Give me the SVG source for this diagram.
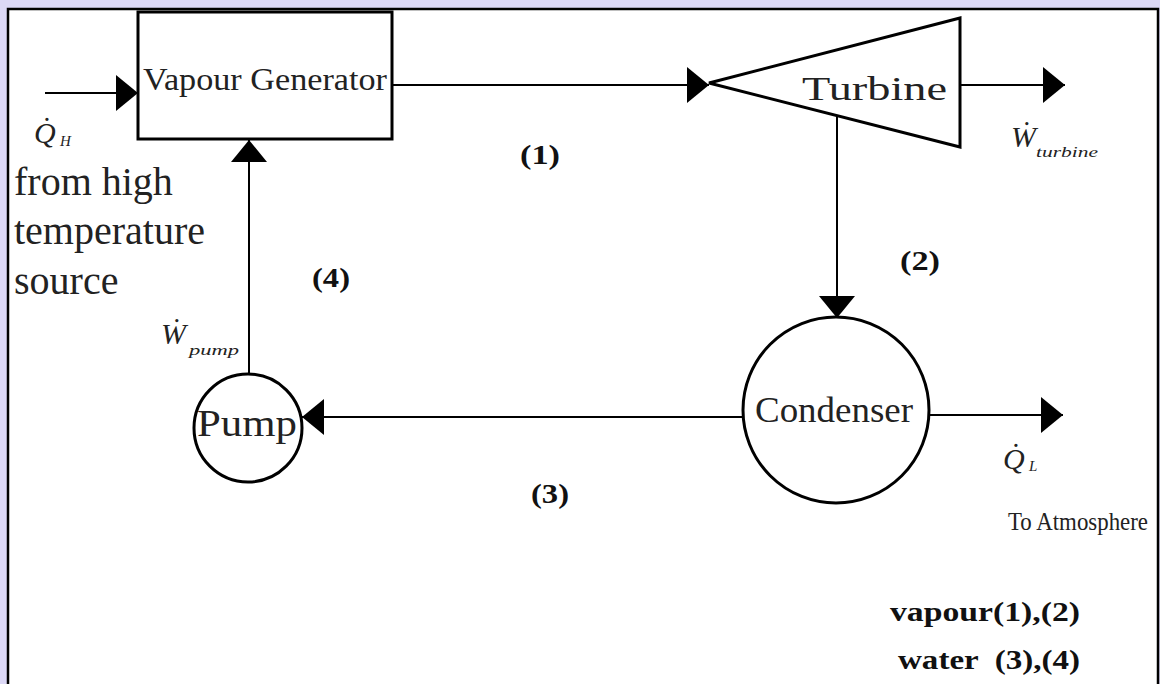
<svg xmlns="http://www.w3.org/2000/svg" width="1160" height="684" viewBox="0 0 1160 684">
<style>
.ln{stroke:#000;stroke-width:2;fill:none}
.sh{stroke:#000;stroke-width:3;fill:#fff}
.t{font-family:"Liberation Serif","Times New Roman",serif;fill:#222}
.b{font-family:"Liberation Serif","Times New Roman",serif;font-weight:bold;fill:#111}
.i{font-family:"Liberation Serif","Times New Roman",serif;font-style:italic;fill:#222}
</style>
<defs>
<marker id="ah" markerUnits="userSpaceOnUse" markerWidth="22" markerHeight="36" refX="22" refY="18" orient="auto">
<path d="M0,0 L22,18 L0,36 z" fill="#000"/>
</marker>
</defs>
<rect x="0" y="0" width="1160" height="684" fill="#dcd8f6"/>
<rect x="8" y="9" width="1150" height="690" fill="#fff" stroke="#000" stroke-width="2.5"/>

<g id="connectors">
<line class="ln" x1="45" y1="93" x2="138" y2="93" marker-end="url(#ah)"/>
<line class="ln" x1="392" y1="85" x2="709" y2="85" marker-end="url(#ah)"/>
<line class="ln" x1="960" y1="85" x2="1065" y2="85" marker-end="url(#ah)"/>
<line class="ln" x1="837" y1="116" x2="837" y2="318" marker-end="url(#ah)"/>
<line class="ln" x1="930" y1="415" x2="1063" y2="415" marker-end="url(#ah)"/>
<line class="ln" x1="742" y1="417" x2="302" y2="417" marker-end="url(#ah)"/>
<line class="ln" x1="249" y1="374" x2="249" y2="140" marker-end="url(#ah)"/>
</g>

<g id="vapour-generator">
<rect class="sh" x="138" y="12" width="254" height="127"/>
<text class="t" x="143" y="90" font-size="31" textLength="244" lengthAdjust="spacingAndGlyphs">Vapour Generator</text>
</g>

<g id="turbine">
<polygon class="sh" points="709,83 960,18 960,147"/>
<text class="t" x="802" y="100" font-size="34" textLength="145" lengthAdjust="spacingAndGlyphs">Turbine</text>
</g>

<g id="condenser">
<circle class="sh" cx="836" cy="410" r="93"/>
<text class="t" x="755" y="422" font-size="35" textLength="158" lengthAdjust="spacingAndGlyphs">Condenser</text>
</g>

<g id="pump">
<circle class="sh" cx="248" cy="428" r="54"/>
<text class="t" x="197" y="436" font-size="38" textLength="100" lengthAdjust="spacingAndGlyphs">Pump</text>
</g>

<g id="labels">
<text class="i" x="34" y="143" font-size="30">Q&#x307;</text>
<text class="i" x="60" y="146" font-size="15">H</text>
<text class="t" x="14" y="195" font-size="40">from high</text>
<text class="t" x="14" y="244" font-size="40">temperature</text>
<text class="t" x="14" y="294" font-size="40">source</text>

<text class="i" x="1011" y="147" font-size="30">&#x1E86;</text>
<text class="i" x="1036" y="157" font-size="14" textLength="62" lengthAdjust="spacingAndGlyphs">turbine</text>

<text class="i" x="161" y="344" font-size="30">&#x1E86;</text>
<text class="i" x="189" y="355" font-size="14" textLength="50" lengthAdjust="spacingAndGlyphs">pump</text>

<text class="i" x="1003" y="469" font-size="30">Q&#x307;</text>
<text class="i" x="1029" y="471" font-size="15">L</text>
<text class="t" x="1008" y="530" font-size="26" textLength="140" lengthAdjust="spacingAndGlyphs">To Atmosphere</text>

<text class="b" x="520" y="164" font-size="27" textLength="40" lengthAdjust="spacingAndGlyphs">(1)</text>
<text class="b" x="900" y="270" font-size="27" textLength="40" lengthAdjust="spacingAndGlyphs">(2)</text>
<text class="b" x="531" y="503" font-size="27" textLength="38" lengthAdjust="spacingAndGlyphs">(3)</text>
<text class="b" x="312" y="287" font-size="27" textLength="38" lengthAdjust="spacingAndGlyphs">(4)</text>

<text class="b" x="890" y="621" font-size="27" textLength="190" lengthAdjust="spacingAndGlyphs">vapour(1),(2)</text>
<text class="b" x="898" y="669" font-size="27" textLength="182" lengthAdjust="spacingAndGlyphs" xml:space="preserve">water  (3),(4)</text>
</g>
</svg>
